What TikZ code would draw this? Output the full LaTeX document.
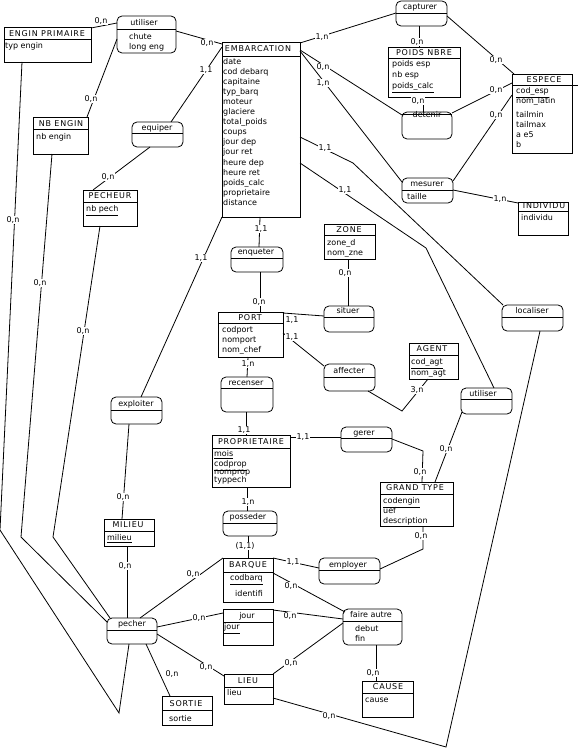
\documentclass[tikz,border=0pt]{standalone}
\usepackage{fontspec}
\setmainfont{DejaVu Sans}
\newfontfamily\ttlfont[LetterSpace=10]{DejaVu Sans}
\newcommand\fs{\fontsize{8}{9}\selectfont}
\newcommand\mkhdr[2]{\draw[conn] ([shift={(0,#2)}]#1.north west) -- ([shift={(0,#2)}]#1.north east);}
\begin{document}
\begin{tikzpicture}[x=1pt,y=-1pt,
 ent/.style={draw, line width=0.8pt, inner sep=0, outer sep=0, anchor=north west},
 asc/.style={ent, rounded corners=5pt},
 conn/.style={line width=0.8pt},
 card/.style={fill=white, inner sep=0.7pt, anchor=mid, font=\fs},
 ttl/.style={inner sep=0, anchor=mid, font=\ttlfont\fs},
 atr/.style={inner sep=0, anchor=mid west, font=\fs},
 rel/.style={inner sep=0, anchor=mid, font=\fs}]
\useasboundingbox (0,0) rectangle (578,749);

% ---------- entities ----------
\node[ent, minimum width=87, minimum height=35] (enginp) at (4,27) {};
\mkhdr{enginp}{12}
\node[ttl] at (47,34) {ENGIN PRIMAIRE};
\node[atr] at (5,46) {typ engin};

\node[ent, minimum width=55, minimum height=37] (nbengin) at (33,117) {};
\mkhdr{nbengin}{12}
\node[ttl] at (61,124) {NB ENGIN};
\node[atr] at (36,137) {nb engin};

\node[ent, minimum width=54, minimum height=36] (pecheur) at (83,190) {};
\mkhdr{pecheur}{12}
\node[ttl] at (110,196) {PECHEUR};
\node[atr] at (86,209) {\underline{nb pech}};

\node[ent, minimum width=78, minimum height=175] (embarc) at (222,42) {};
\mkhdr{embarc}{14}
\node[ttl] at (258,49) {EMBARCATION};
\node[atr] at (223,62) {date};
\node[atr] at (223,72) {cod debarq};
\node[atr] at (223,82) {capitaine};
\node[atr] at (223,92) {typ\_barq};
\node[atr] at (223,102) {moteur};
\node[atr] at (223,112) {glaciere};
\node[atr] at (223,122) {total\_poids};
\node[atr] at (223,132) {coups};
\node[atr] at (223,142) {jour dep};
\node[atr] at (223,152) {jour ret};
\node[atr] at (223,163) {heure dep};
\node[atr] at (223,173) {heure ret};
\node[atr] at (223,183) {poids\_calc};
\node[atr] at (223,193) {proprietaire};
\node[atr] at (223,203) {distance};

\node[ent, minimum width=72, minimum height=50] (poids) at (388,47) {};
\mkhdr{poids}{11}
\node[ttl] at (424,53) {POIDS NBRE};
\node[atr] at (392,64) {poids esp};
\node[atr] at (392,75) {nb esp};
\node[atr] at (392,86) {\underline{poids\_calc}};

\node[ent, minimum width=60, minimum height=79] (espece) at (512,74) {};
\draw[conn] ([shift={(0,11)}]espece.north west) -- ++(66,0);
\node[ttl] at (544,80) {ESPECE};
\node[atr] at (516,91) {\underline{cod\_esp}};
\node[atr] at (516,101) {nom\_latin};
\node[atr] at (516,115) {tailmin};
\node[atr] at (516,125) {tailmax};
\node[atr] at (516,135) {a e5};
\node[atr] at (516,145) {b};

\node[ent, minimum width=50, minimum height=33] (individu) at (518,202) {};
\mkhdr{individu}{9}
\node[ttl] at (544,206) {INDIVIDU};
\node[atr] at (521,218) {individu};

\node[ent, minimum width=51, minimum height=35] (zone) at (324,224) {};
\mkhdr{zone}{11}
\node[ttl] at (349,230) {ZONE};
\node[atr] at (327,243) {zone\_d};
\node[atr] at (327,253) {nom\_zne};

\node[ent, minimum width=65, minimum height=45] (port) at (218,312) {};
\mkhdr{port}{11}
\node[ttl] at (250,318) {PORT};
\node[atr] at (222,330) {codport};
\node[atr] at (222,340) {nomport};
\node[atr] at (222,350) {nom\_chef};

\node[ent, minimum width=49, minimum height=36] (agent) at (409,343) {};
\mkhdr{agent}{12}
\node[ttl] at (432,349) {AGENT};
\node[atr] at (411,362) {\underline{cod\_agt}};
\node[atr] at (411,373) {nom\_agt};

\node[ent, minimum width=78, minimum height=52] (proprio) at (212,435) {};
\mkhdr{proprio}{13}
\node[ttl] at (251,442) {PROPRIETAIRE};
\node[atr] at (214,454) {\underline{mois}};
\node[atr] at (214,464) {\underline{codprop}};
\node[atr] at (214,472) {nomprop};
\node[atr] at (214,480) {typpech};

\node[ent, minimum width=73, minimum height=44] (grandtype) at (380,482) {};
\mkhdr{grandtype}{12}
\node[ttl] at (415,488) {GRAND TYPE};
\node[atr] at (383,501) {\underline{codengin}};
\node[atr] at (383,511) {uef};
\node[atr] at (383,521) {description};

\node[ent, minimum width=50, minimum height=27] (milieu) at (104,519) {};
\mkhdr{milieu}{12}
\node[ttl] at (128,525) {MILIEU};
\node[atr] at (107,538) {\underline{milieu}};

\node[ent, minimum width=50, minimum height=44] (barque) at (223,558) {};
\mkhdr{barque}{14}
\node[ttl] at (248,565) {BARQUE};
\node[atr] at (230,578) {\underline{codbarq}};
\node[atr] at (235,594) {identifi};

\node[ent, minimum width=50, minimum height=36] (jour) at (223,609) {};
\mkhdr{jour}{13}
\node[rel] at (247,616) {jour};
\node[atr] at (224,627) {\underline{jour}};

\node[ent, minimum width=49, minimum height=30] (lieu) at (224,674) {};
\mkhdr{lieu}{13}
\node[ttl] at (248,681) {LIEU};
\node[atr] at (227,693) {lieu};

\node[ent, minimum width=50, minimum height=29] (sortie) at (162,696) {};
\mkhdr{sortie}{14}
\node[ttl] at (186,704) {SORTIE};
\node[atr] at (169,719) {sortie};

\node[ent, minimum width=51, minimum height=36] (cause) at (362,681) {};
\mkhdr{cause}{12}
\node[ttl] at (388,687) {CAUSE};
\node[atr] at (365,700) {cause};

% ---------- associations ----------
\node[asc, minimum width=59, minimum height=37] (utiliserA) at (117,16) {};
\mkhdr{utiliserA}{13}
\node[rel] at (144,23) {utiliser};
\node[atr] at (129,37) {chute};
\node[atr] at (129,47) {long eng};

\node[asc, minimum width=51, minimum height=25] (equiper) at (132,122) {};
\mkhdr{equiper}{11}
\node[rel] at (157,128) {equiper};

\node[asc, minimum width=51, minimum height=25] (capturer) at (396,1) {};
\mkhdr{capturer}{12}
\node[rel] at (420,7) {capturer};

\node[asc, minimum width=50, minimum height=27] (detenir) at (402,112) {};
\mkhdr{detenir}{2}
\node[rel] at (427,115) {detenir};

\node[asc, minimum width=51, minimum height=25] (mesurer) at (402,178) {};
\mkhdr{mesurer}{12}
\node[rel] at (427,184) {mesurer};
\node[atr] at (407,197) {taille};

\node[asc, minimum width=52, minimum height=25] (enqueter) at (231,247) {};
\mkhdr{enqueter}{11}
\node[rel] at (256,252) {enqueter};

\node[asc, minimum width=50, minimum height=26] (situer) at (324,306) {};
\mkhdr{situer}{11}
\node[rel] at (348,311) {situer};

\node[asc, minimum width=61, minimum height=26] (localiser) at (502,305) {};
\mkhdr{localiser}{12}
\node[rel] at (532,311) {localiser};

\node[asc, minimum width=51, minimum height=27] (affecter) at (324,364) {};
\mkhdr{affecter}{13}
\node[rel] at (349,371) {affecter};

\node[asc, minimum width=51, minimum height=26] (utiliserB) at (461,388) {};
\mkhdr{utiliserB}{11}
\node[rel] at (483,394) {utiliser};

\node[asc, minimum width=52, minimum height=35] (recenser) at (221,377) {};
\mkhdr{recenser}{11}
\node[rel] at (246,383) {recenser};

\node[asc, minimum width=51, minimum height=27] (exploiter) at (111,397) {};
\mkhdr{exploiter}{13}
\node[rel] at (136,404) {exploiter};

\node[asc, minimum width=51, minimum height=25] (gerer) at (341,427) {};
\mkhdr{gerer}{11}
\node[rel] at (364,433) {gerer};

\node[asc, minimum width=54, minimum height=25] (posseder) at (223,511) {};
\mkhdr{posseder}{12}
\node[rel] at (248,517) {posseder};

\node[asc, minimum width=61, minimum height=26] (employer) at (319,558) {};
\mkhdr{employer}{12}
\node[rel] at (348,565) {employer};

\node[asc, minimum width=59, minimum height=36] (faire) at (343,609) {};
\mkhdr{faire}{12}
\node[rel] at (371,615) {faire autre};
\node[atr] at (355,629) {debut};
\node[atr] at (355,639) {fin};

\node[asc, minimum width=50, minimum height=26] (pecher) at (107,618) {};
\mkhdr{pecher}{12}
\node[rel] at (132,624) {pecher};

% ---------- connectors ----------
\draw[conn] ([shift={(0,1)}]enginp.north east) -- ([shift={(0,7)}]utiliserA.north west);
\draw[conn] ([shift={(0,15)}]utiliserA.north east) -- ([shift={(0,2)}]embarc.north west);
\draw[conn] ([shift={(0,23)}]utiliserA.north west) -- ([shift={(-1,0)}]nbengin.north east);
\draw[conn] ([shift={(0,5)}]embarc.north west) -- ([shift={(39,0)}]equiper.north west);
\draw[conn] ([shift={(18,0)}]equiper.south west) -- ([shift={(10,0)}]pecheur.north west);
\draw[conn] ([shift={(18,0)}]enginp.south west) -- (0,530) -- (119,713) -- ([shift={(22,0)}]pecher.south west);
\draw[conn] ([shift={(19,0)}]nbengin.south west) -- (21,537) -- ([shift={(0,4)}]pecher.north west);
\draw[conn] ([shift={(17,0)}]pecheur.south west) -- (53,537) -- ([shift={(3,0)}]pecher.north west);
\draw[conn] (embarc.south west) -- ([shift={(30,0)}]exploiter.north west);
\draw[conn] ([shift={(18,0)}]exploiter.south west) -- ([shift={(18,0)}]milieu.north west);
\draw[conn] ([shift={(23,0)}]milieu.south west) -- ([shift={(20,0)}]pecher.north west);
\draw[conn] ([shift={(33,0)}]pecher.north west) -- (barque.north west);
\draw[conn] ([shift={(0,9)}]pecher.north east) -- ([shift={(0,4)}]jour.north west);
\draw[conn] ([shift={(0,16)}]pecher.north east) -- ([shift={(0,2)}]lieu.north west);
\draw[conn] ([shift={(39,0)}]pecher.south west) -- ([shift={(8,0)}]sortie.north west);
\draw[conn] ([shift={(38,0)}]embarc.south west) -- ([shift={(28,0)}]enqueter.north west);
\draw[conn] ([shift={(29,0)}]enqueter.south west) -- ([shift={(42,0)}]port.north west);
\draw[conn] ([shift={(0,1)}]port.north east) -- ([shift={(0,10)}]situer.north west);
\draw[conn] ([shift={(0,21)}]port.north east) -- ([shift={(0,2)}]affecter.north west);
\draw[conn] ([shift={(44,0)}]affecter.south west) -- (402,411) -- ([shift={(19,0)}]agent.south west);
\draw[conn] ([shift={(30,0)}]port.south west) -- ([shift={(26,0)}]recenser.north west);
\draw[conn] ([shift={(25,0)}]recenser.south west) -- ([shift={(34,0)}]proprio.north west);
\draw[conn] ([shift={(0,2)}]proprio.north east) -- ([shift={(0,10)}]gerer.north west);
\draw[conn] ([shift={(0,12)}]gerer.north east) -- (423,451) -- ([shift={(42,0)}]grandtype.north west);
\draw[conn] ([shift={(1,24)}]utiliserB.north west) -- ([shift={(55,0)}]grandtype.north west);
\draw[conn] ([shift={(0,121)}]embarc.north east) -- (426,248) -- ([shift={(33,0)}]utiliserB.north west);
\draw[conn] ([shift={(0,95)}]embarc.north east) -- (353,163) -- ([shift={(1,0)}]localiser.north west);
\draw[conn] ([shift={(0,1)}]embarc.north east) -- ([shift={(0,12)}]capturer.north west);
\draw[conn] ([shift={(0,8)}]embarc.north east) -- ([shift={(0,3)}]detenir.north west);
\draw[conn] ([shift={(0,9)}]embarc.north east) -- ([shift={(0,4)}]mesurer.north west);
\draw[conn] ([shift={(23,0)}]capturer.south west) -- ([shift={(31,0)}]poids.north west);
\draw[conn] ([shift={(0,15)}]capturer.north east) -- ([shift={(2,0)}]espece.north west);
\draw[conn] ([shift={(35,0)}]poids.south west) -- ([shift={(21,0)}]detenir.north west);
\draw[conn] ([shift={(0,1)}]detenir.north east) -- ([shift={(0,9)}]espece.north west);
\draw[conn] ([shift={(0,3)}]mesurer.north east) -- ([shift={(0,21)}]espece.north west);
\draw[conn] ([shift={(0,12)}]mesurer.north east) -- ([shift={(0,1)}]individu.north west);
\draw[conn] ([shift={(24,0)}]zone.south west) -- ([shift={(24,0)}]situer.north west);
\draw[conn] ([shift={(38,0)}]localiser.south west) -- (446,747) -- ([shift={(0,24)}]lieu.north east);
\draw[conn] ([shift={(43,0)}]grandtype.south west) -- (423,549) -- ([shift={(0,11)}]employer.north east);
\draw[conn] ([shift={(35,0)}]proprio.south west) -- ([shift={(24,0)}]posseder.north west);
\draw[conn] ([shift={(25,0)}]posseder.south west) -- ([shift={(25,0)}]barque.north west);
\draw[conn] (barque.north east) -- ([shift={(0,10)}]employer.north west);
\draw[conn] ([shift={(0,15)}]barque.north east) -- ([shift={(2,3)}]faire.north west);
\draw[conn] ([shift={(0,1)}]jour.north east) -- ([shift={(0,10)}]faire.north west);
\draw[conn] (lieu.north east) -- ([shift={(0,14)}]faire.north west);
\draw[conn] ([shift={(33,0)}]faire.south west) -- ([shift={(14,0)}]cause.north west);

% ---------- cardinalities ----------
\node[card] at (101,21) {0,n};
\node[card] at (207,43) {0,n};
\node[card] at (91,99) {0,n};
\node[card] at (206,70) {1,1};
\node[card] at (108,177) {0,n};
\node[card] at (13,220) {0,n};
\node[card] at (40,283) {0,n};
\node[card] at (83,331) {0,n};
\node[card] at (201,258) {1,1};
\node[card] at (123,497) {0,n};
\node[card] at (125,566) {0,n};
\node[card] at (193,574) {0,n};
\node[card] at (199,618) {0,n};
\node[card] at (206,667) {0,n};
\node[card] at (172,674) {0,n};
\node[card] at (261,229) {1,1};
\node[card] at (259,302) {0,n};
\node[card] at (292,320) {1,1};
\node[card] at (292,337) {1,1};
\node[card] at (417,390) {3,n};
\node[card] at (248,364) {1,n};
\node[card] at (244,430) {1,1};
\node[card] at (303,437) {1,1};
\node[card] at (420,472) {0,n};
\node[card] at (446,449) {0,n};
\node[card] at (345,190) {1,1};
\node[card] at (325,148) {1,1};
\node[card] at (322,37) {1,n};
\node[card] at (323,67) {0,n};
\node[card] at (323,83) {1,n};
\node[card] at (417,42) {0,n};
\node[card] at (496,60) {0,n};
\node[card] at (418,101) {0,n};
\node[card] at (496,90) {0,n};
\node[card] at (496,115) {0,n};
\node[card] at (500,199) {1,n};
\node[card] at (345,273) {0,n};
\node[card] at (329,716) {0,n};
\node[card] at (421,536) {0,n};
\node[card] at (248,502) {1,n};
\node[card] at (245,546) {(1,1)};
\node[card] at (293,562) {1,1};
\node[card] at (291,586) {0,n};
\node[card] at (290,616) {0,n};
\node[card] at (291,663) {0,n};
\node[card] at (373,673) {0,n};
\end{tikzpicture}
\end{document}
